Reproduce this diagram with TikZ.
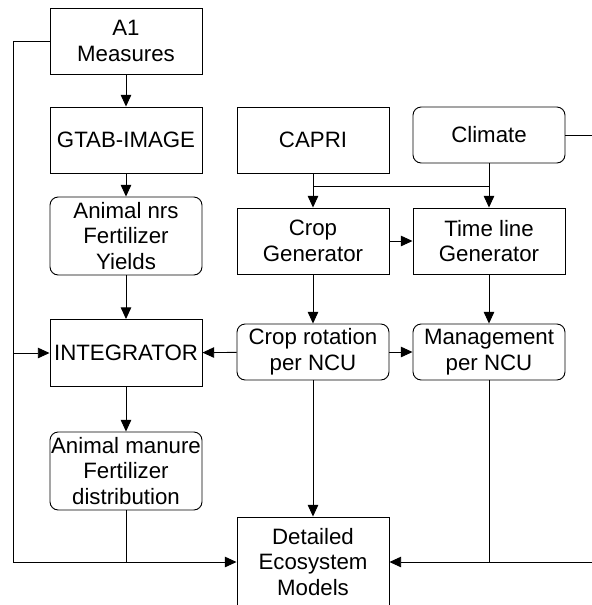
\documentclass[tikz,border=0pt]{standalone}
\usepackage{fontspec}
\setmainfont{Liberation Sans}
\usetikzlibrary{arrows.meta,positioning,calc}
\tikzset{>={Triangle[length=10pt,width=9pt]}}
\tikzset{box/.style={draw, line width=0.8pt, minimum width=4.56cm,
    minimum height=1.98cm, align=center, inner sep=0pt,
    font=\fontsize{19}{22}\selectfont}}
\tikzset{rbox/.style={box, rounded corners=7pt}}
\tikzset{link/.style={line width=0.8pt}}

\begin{document}
\begin{tikzpicture}[x=0.03cm, y=-0.03cm]
          \clip (0,0) rectangle (592,605);
          \node[box] (meas) at (126,41) {A1\\Measures};
          \node[box] (gtab) at (126,140) {GTAB-IMAGE};
          \node[rbox, minimum height=2.34cm] (nrs) at (126,236) {Animal nrs\\Fertilizer\\Yields};
          \node[box, minimum height=2.01cm] (integ) at (126,353) {INTEGRATOR};
          \node[rbox, minimum height=2.34cm] (manure) at (126,471) {Animal manure\\Fertilizer\\distribution};
          \node[box] (capri) at (313,140) {CAPRI};
          \node[rbox, minimum height=1.68cm] (climate) at (489,135) {Climate};
          \node[box] (cropgen) at (313,241) {Crop\\Generator};
          \node[box] (timegen) at (489,241) {Time line\\Generator};
          \node[rbox, minimum height=1.68cm] (rot) at (313,352) {Crop rotation\\per NCU};
          \node[rbox, minimum height=1.68cm] (mgmt) at (489,352) {Management\\per NCU};
          \node[box, minimum height=2.7cm] (eco) at (313,562) {Detailed\\Ecosystem\\Models};
          \coordinate (lbot) at (13,562);
          \coordinate (lmid) at (lbot |- integ.west);
          \coordinate (fork) at (313,186);
          \coordinate (rtop) at (592,135);
          \coordinate (rbot) at (592,562);
          \draw[link,->] (meas) -- (gtab);
          \draw[link,->] (gtab) -- (nrs);
          \draw[link,->] (nrs) -- (integ);
          \draw[link,->] (integ) -- (manure);
          \draw[link,->] (meas.west) -| (lbot) -- (eco.west);
          \draw[link,->] (lmid) -- (integ.west);
          \draw[link] (manure.south) -- (manure.south |- eco.west);
          \draw[link,->] (capri) -- (cropgen);
          \draw[link] (fork) -- (fork -| climate.south);
          \draw[link,->] (climate) -- (timegen);
          \draw[link,->] (cropgen) -- (timegen);
          \draw[link,->] (cropgen) -- (rot);
          \draw[link,->] (timegen) -- (mgmt);
          \draw[link,->] (rot) -- (integ);
          \draw[link,->] (rot) -- (mgmt);
          \draw[link,->] (rot) -- (eco);
          \draw[link] (climate.east) -- (rtop);
          \draw[link,->] (rbot) -- (eco.east);
          \draw[link] (mgmt.south) -- (mgmt.south |- eco.east);
        \end{tikzpicture}
\end{document}
